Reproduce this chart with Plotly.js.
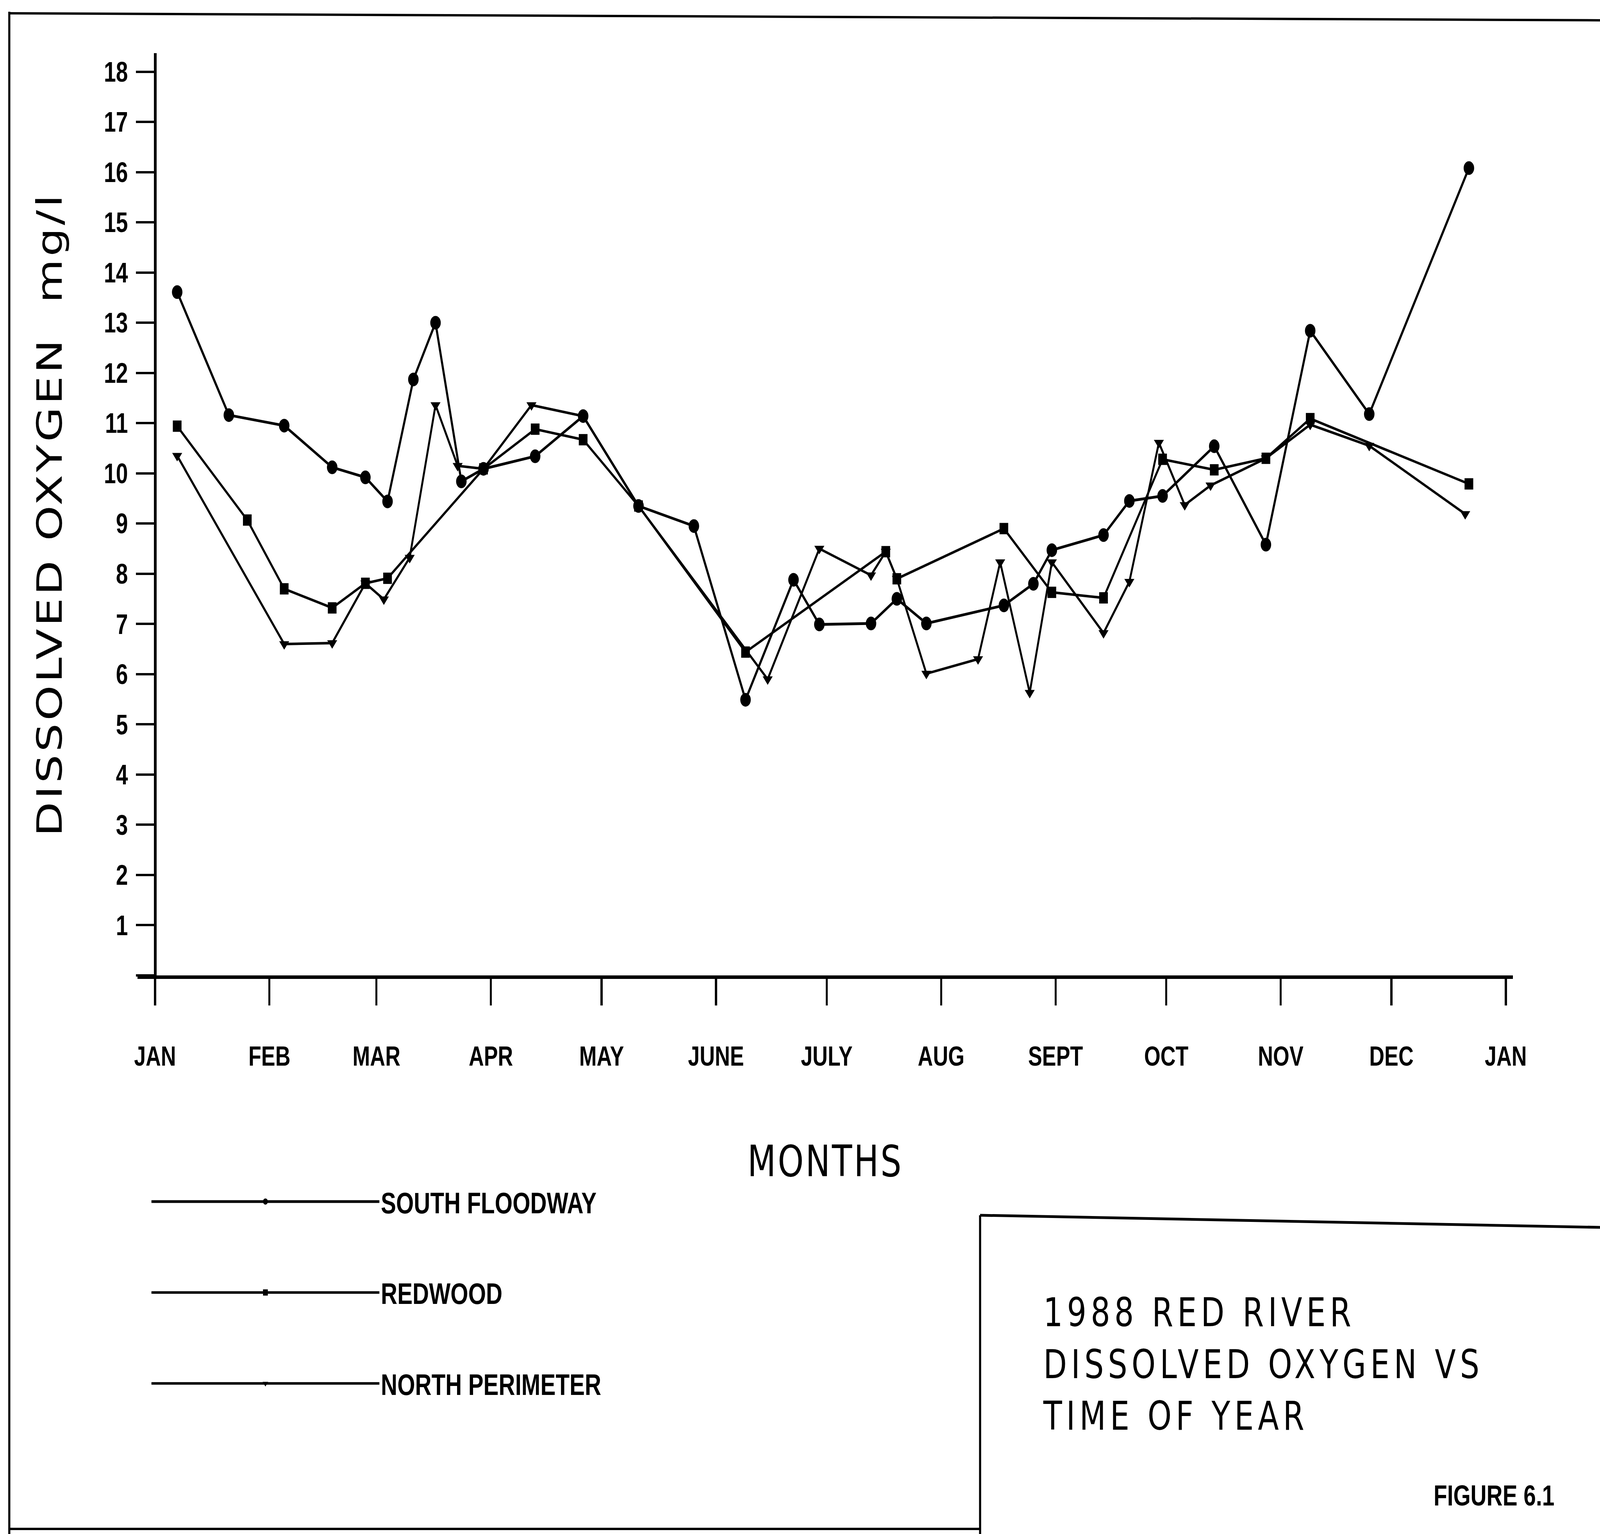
<!DOCTYPE html>
<html>
<head>
<meta charset="utf-8">
<script src="https://cdn.plot.ly/plotly-3.0.1.min.js"></script>
<style>
  html, body { margin: 0; padding: 0; background: #ffffff; overflow: hidden; }
  #frame { position: relative; overflow: hidden; background: #ffffff; }
  #chart { position: absolute; left: 0; top: 0; width: 5335px; height: 3927px; transform-origin: 0 0; }
  .gtitle { letter-spacing: 14px; }
  .xtitle { letter-spacing: 6px; }
  .ytitle { letter-spacing: 7px; }
</style>
</head>
<body>
<div id="frame"><div id="chart"></div></div>
<script>
// ---- data (1988, dissolved oxygen, mg/l) ----
const sfDates = ['1988-01-07','1988-01-21','1988-02-05','1988-02-18','1988-02-27','1988-03-04','1988-03-11','1988-03-17','1988-03-24','1988-03-30','1988-04-13','1988-04-26','1988-05-11','1988-05-26','1988-06-09','1988-06-22','1988-06-29','1988-07-13','1988-07-20','1988-07-28','1988-08-18','1988-08-26','1988-08-31','1988-09-14','1988-09-21','1988-09-30','1988-10-14','1988-10-28','1988-11-09','1988-11-25','1988-12-22'];
const sfValues = [13.61,11.16,10.95,10.12,9.92,9.44,11.87,13.0,9.84,10.09,10.34,11.14,9.35,8.95,5.49,7.88,6.99,7.01,7.5,7.01,7.37,7.8,8.47,8.77,9.45,9.55,10.54,8.58,12.84,11.18,16.08];

const rwDates = ['1988-01-07','1988-01-26','1988-02-05','1988-02-18','1988-02-27','1988-03-04','1988-03-30','1988-04-13','1988-04-26','1988-05-11','1988-06-09','1988-07-17','1988-07-20','1988-08-18','1988-08-31','1988-09-14','1988-09-30','1988-10-14','1988-10-28','1988-11-09','1988-12-22'];
const rwValues = [10.94,9.07,7.70,7.32,7.81,7.91,10.09,10.88,10.67,9.35,6.44,8.44,7.90,8.90,7.63,7.52,10.28,10.07,10.30,11.09,9.79];

const npDates = ['1988-01-07','1988-02-05','1988-02-18','1988-02-27','1988-03-03','1988-03-10','1988-03-17','1988-03-23','1988-03-30','1988-04-12','1988-04-26','1988-05-11','1988-06-15','1988-06-29','1988-07-13','1988-07-17','1988-07-20','1988-07-28','1988-08-11','1988-08-17','1988-08-25','1988-08-31','1988-09-14','1988-09-21','1988-09-29','1988-10-06','1988-10-13','1988-10-28','1988-11-09','1988-11-25','1988-12-21'];
const npValues = [10.35,6.60,6.62,7.81,7.49,8.32,11.36,10.15,10.09,11.36,11.14,9.35,5.90,8.50,7.97,8.44,7.90,6.01,6.30,8.23,5.63,8.23,6.82,7.84,10.61,9.37,9.76,10.30,10.97,10.55,9.19];

const seriesNames = ['SOUTH FLOODWAY','REDWOOD','NORTH PERIMETER'];
const monthTickVals = ['1988-01-01','1988-02-01','1988-03-01','1988-04-01','1988-05-01','1988-06-01','1988-07-01','1988-08-01','1988-09-01','1988-10-01','1988-11-01','1988-12-01','1989-01-01'];
const monthTickText = ['JAN','FEB','MAR','APR','MAY','JUNE','JULY','AUG','SEPT','OCT','NOV','DEC','JAN'];
const yTickVals = [0,1,2,3,4,5,6,7,8,9,10,11,12,13,14,15,16,17,18];
const yTickText = ['','1','2','3','4','5','6','7','8','9','10','11','12','13','14','15','16','17','18'];

// ---- geometry: the chart is laid out at 5335 x 3927 and fitted to the window ----
const RW = 5335, RH = 3927;
const VW = window.innerWidth || RW, VH = window.innerHeight || RH;
const frame = document.getElementById('frame');
frame.style.width = VW + 'px';
frame.style.height = VH + 'px';
document.getElementById('chart').style.transform = 'scale(' + (VW / RW) + ',' + (VH / RH) + ')';

const L = 459, R = 290, T = 136, B = 1430;
const PW = RW - L - R, PH = RH - T - B;
const px = p => (p - L) / PW;          // pixel x -> paper x
const py = p => (RH - B - p) / PH;     // pixel y -> paper y
const xRange = ['1987-12-27 07:00', '1989-01-02 23:00'];
const yAxisPos = px(517);

function series(x, y, name, symbol, size, width) {
  return {
    type: 'scatter', mode: 'lines+markers', x: x, y: y, name: name,
    legendgroup: name,
    line: { color: '#000000', width: width },
    marker: { symbol: symbol, size: size, color: '#000000' },
    cliponaxis: false
  };
}

const data = [
  series(sfDates, sfValues, seriesNames[0], 'circle', 35, 7),
  series(rwDates, rwValues, seriesNames[1], 'square', 29, 6.5),
  series(npDates, npValues, seriesNames[2], 'triangle-down', 29, 6.5)
];

const black = '#000000';
const shapes = [
  // page border (left, top, bottom)
  { type: 'line', xref: 'paper', yref: 'paper', x0: px(31), x1: px(31), y0: py(30), y1: py(3927), line: { color: black, width: 7 } },
  { type: 'line', xref: 'paper', yref: 'paper', x0: px(31), x1: px(5335), y0: py(34), y1: py(52), line: { color: black, width: 6 } },
  { type: 'line', xref: 'paper', yref: 'paper', x0: px(31), x1: px(3268), y0: py(3914), y1: py(3914), line: { color: black, width: 6 } },
  // title box
  { type: 'line', xref: 'paper', yref: 'paper', x0: px(3268), x1: px(5335), y0: py(3111), y1: py(3142), line: { color: black, width: 7 } },
  { type: 'line', xref: 'paper', yref: 'paper', x0: px(3268), x1: px(3268), y0: py(3111), y1: py(3927), line: { color: black, width: 7 } }
];

const layout = {
  width: RW, height: RH,
  margin: { l: L, r: R, t: T, b: B, pad: 0 },
  paper_bgcolor: '#ffffff', plot_bgcolor: '#ffffff',
  showlegend: true,
  title: {
    text: '1988 RED RIVER<br>DISSOLVED OXYGEN VS<br>TIME OF YEAR',
    xref: 'container', yref: 'container',
    x: 3479 / RW, y: 1 - 3395 / RH, xanchor: 'left', yanchor: 'top',
    font: { family: 'DejaVu Sans', size: 102, color: black }
  },
  xaxis: {
    type: 'date', range: xRange,
    tickmode: 'array', tickvals: monthTickVals, ticktext: monthTickText,
    ticks: 'outside', ticklen: 68, tickwidth: 7, tickcolor: black,
    ticklabelstandoff: 70,
    showline: true, linewidth: 9, linecolor: black,
    showgrid: false, zeroline: false,
    tickfont: { family: 'Liberation Sans', size: 70, color: black, weight: 700 },
    title: { text: 'MONTHS', standoff: 196, font: { family: 'DejaVu Sans', size: 110, color: black } }
  },
  yaxis: {
    range: [0, 18.37], anchor: 'free', position: yAxisPos,
    tickmode: 'array', tickvals: yTickVals, ticktext: yTickText,
    ticks: 'outside', ticklen: 60, tickwidth: 6, tickcolor: black,
    ticklabelstandoff: 12,
    showline: true, linewidth: 9, linecolor: black,
    showgrid: false, zeroline: false,
    tickfont: { family: 'Liberation Sans', size: 72, color: black, weight: 700 },
    title: { text: 'DISSOLVED OXYGEN  mg/l', standoff: 100, font: { family: 'DejaVu Sans', size: 115, color: black } }
  },
  legend: {
    x: px(500), y: py(3020), xanchor: 'left', yanchor: 'top',
    bgcolor: 'rgba(0,0,0,0)', borderwidth: 0,
    traceorder: 'grouped', tracegroupgap: 131,
    itemwidth: 760, itemsizing: 'trace',
    font: { family: 'Liberation Sans', size: 76, color: black, weight: 700 }
  },
  annotations: [
    { text: 'FIGURE 6.1', xref: 'paper', yref: 'paper', x: px(5185), y: py(3829), xanchor: 'right', yanchor: 'middle', showarrow: false,
      font: { family: 'Liberation Sans', size: 74, color: black, weight: 700 } }
  ],
  shapes: shapes
};

Plotly.newPlot('chart', data, layout, { staticPlot: true, displayModeBar: false });
</script>
</body>
</html>
